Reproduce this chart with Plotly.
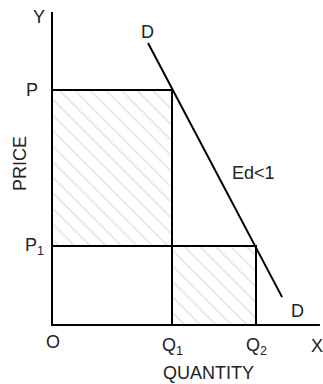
import plotly.graph_objects as go

# ---- data (economic units) ----
price_labels = ["P", "P<sub>1</sub>"]
prices = [7.83, 2.63]            # P, P1
qty_labels = ["Q<sub>1</sub>", "Q<sub>2</sub>"]
quantities = [4.0, 6.8]          # Q1, Q2
demand_q = [3.2, 7.67]           # demand curve end points (quantity)
demand_p = [9.4, 0.93]           # demand curve end points (price)
x_axis_end = 8.93
y_axis_end = 10.43

P, P1 = prices
Q1, Q2 = quantities

fig = go.Figure()

hatch = dict(shape="\\", fgcolor="#c0c0c0", bgcolor="white", size=11, solidity=0.12)
line = dict(color="black", width=2)

# shaded rectangle O-P-Q1
fig.add_trace(go.Scatter(x=[0, Q1, Q1, 0, 0], y=[0, 0, P, P, 0], mode="lines",
                         fill="toself", fillcolor="white", fillpattern=hatch,
                         line=line, hoverinfo="skip"))
# unshaded lower part (P1 box)
fig.add_trace(go.Scatter(x=[0, Q1, Q1, 0, 0], y=[0, 0, P1, P1, 0], mode="lines",
                         fill="toself", fillcolor="white",
                         line=line, hoverinfo="skip"))
# shaded rectangle Q1-Q2 under P1
fig.add_trace(go.Scatter(x=[Q1, Q2, Q2, Q1, Q1], y=[0, 0, P1, P1, 0], mode="lines",
                         fill="toself", fillcolor="white", fillpattern=hatch,
                         line=line, hoverinfo="skip"))
# demand curve
fig.add_trace(go.Scatter(x=demand_q, y=demand_p, mode="lines",
                         line=line, hoverinfo="skip"))
# axes
fig.add_trace(go.Scatter(x=[0, 0, x_axis_end], y=[y_axis_end, 0, 0], mode="lines",
                         line=line, hoverinfo="skip"))

font = dict(family="Liberation Sans, Arial, sans-serif", size=18, color="#222")

ann = []
def add(x, y, text, angle=0):
    ann.append(dict(x=x, y=y, text=text, showarrow=False, font=font, textangle=angle,
                    xanchor="center", yanchor="middle"))

add(-0.43, 10.27, "Y")
add(demand_q[0] - 0.03, 9.77, "D")
add(-0.67, P, price_labels[0])
add(-0.57, P1, price_labels[1])
add(-1.07, 5.4, "PRICE", -90)
add(6.7, 5.07, "Ed&lt;1")
add(8.17, 0.47, "D")
add(0.02, -0.57, "O")
add(Q1, -0.7, qty_labels[0])
add(Q2, -0.7, qty_labels[1])
add(8.83, -0.7, "X")
add(5.23, -1.6, "QUANTITY")

fig.update_layout(
    width=323, height=384, margin=dict(l=0, r=0, t=0, b=0),
    plot_bgcolor="white", paper_bgcolor="white", showlegend=False,
    xaxis=dict(range=[-1.7333, 9.0333], visible=False, fixedrange=True),
    yaxis=dict(range=[-1.9667, 10.8333], visible=False, fixedrange=True),
    annotations=ann,
)
fig.write_html("out.html", config={"displayModeBar": False},
               post_script="document.body.style.margin='0';document.body.style.overflow='hidden';")
